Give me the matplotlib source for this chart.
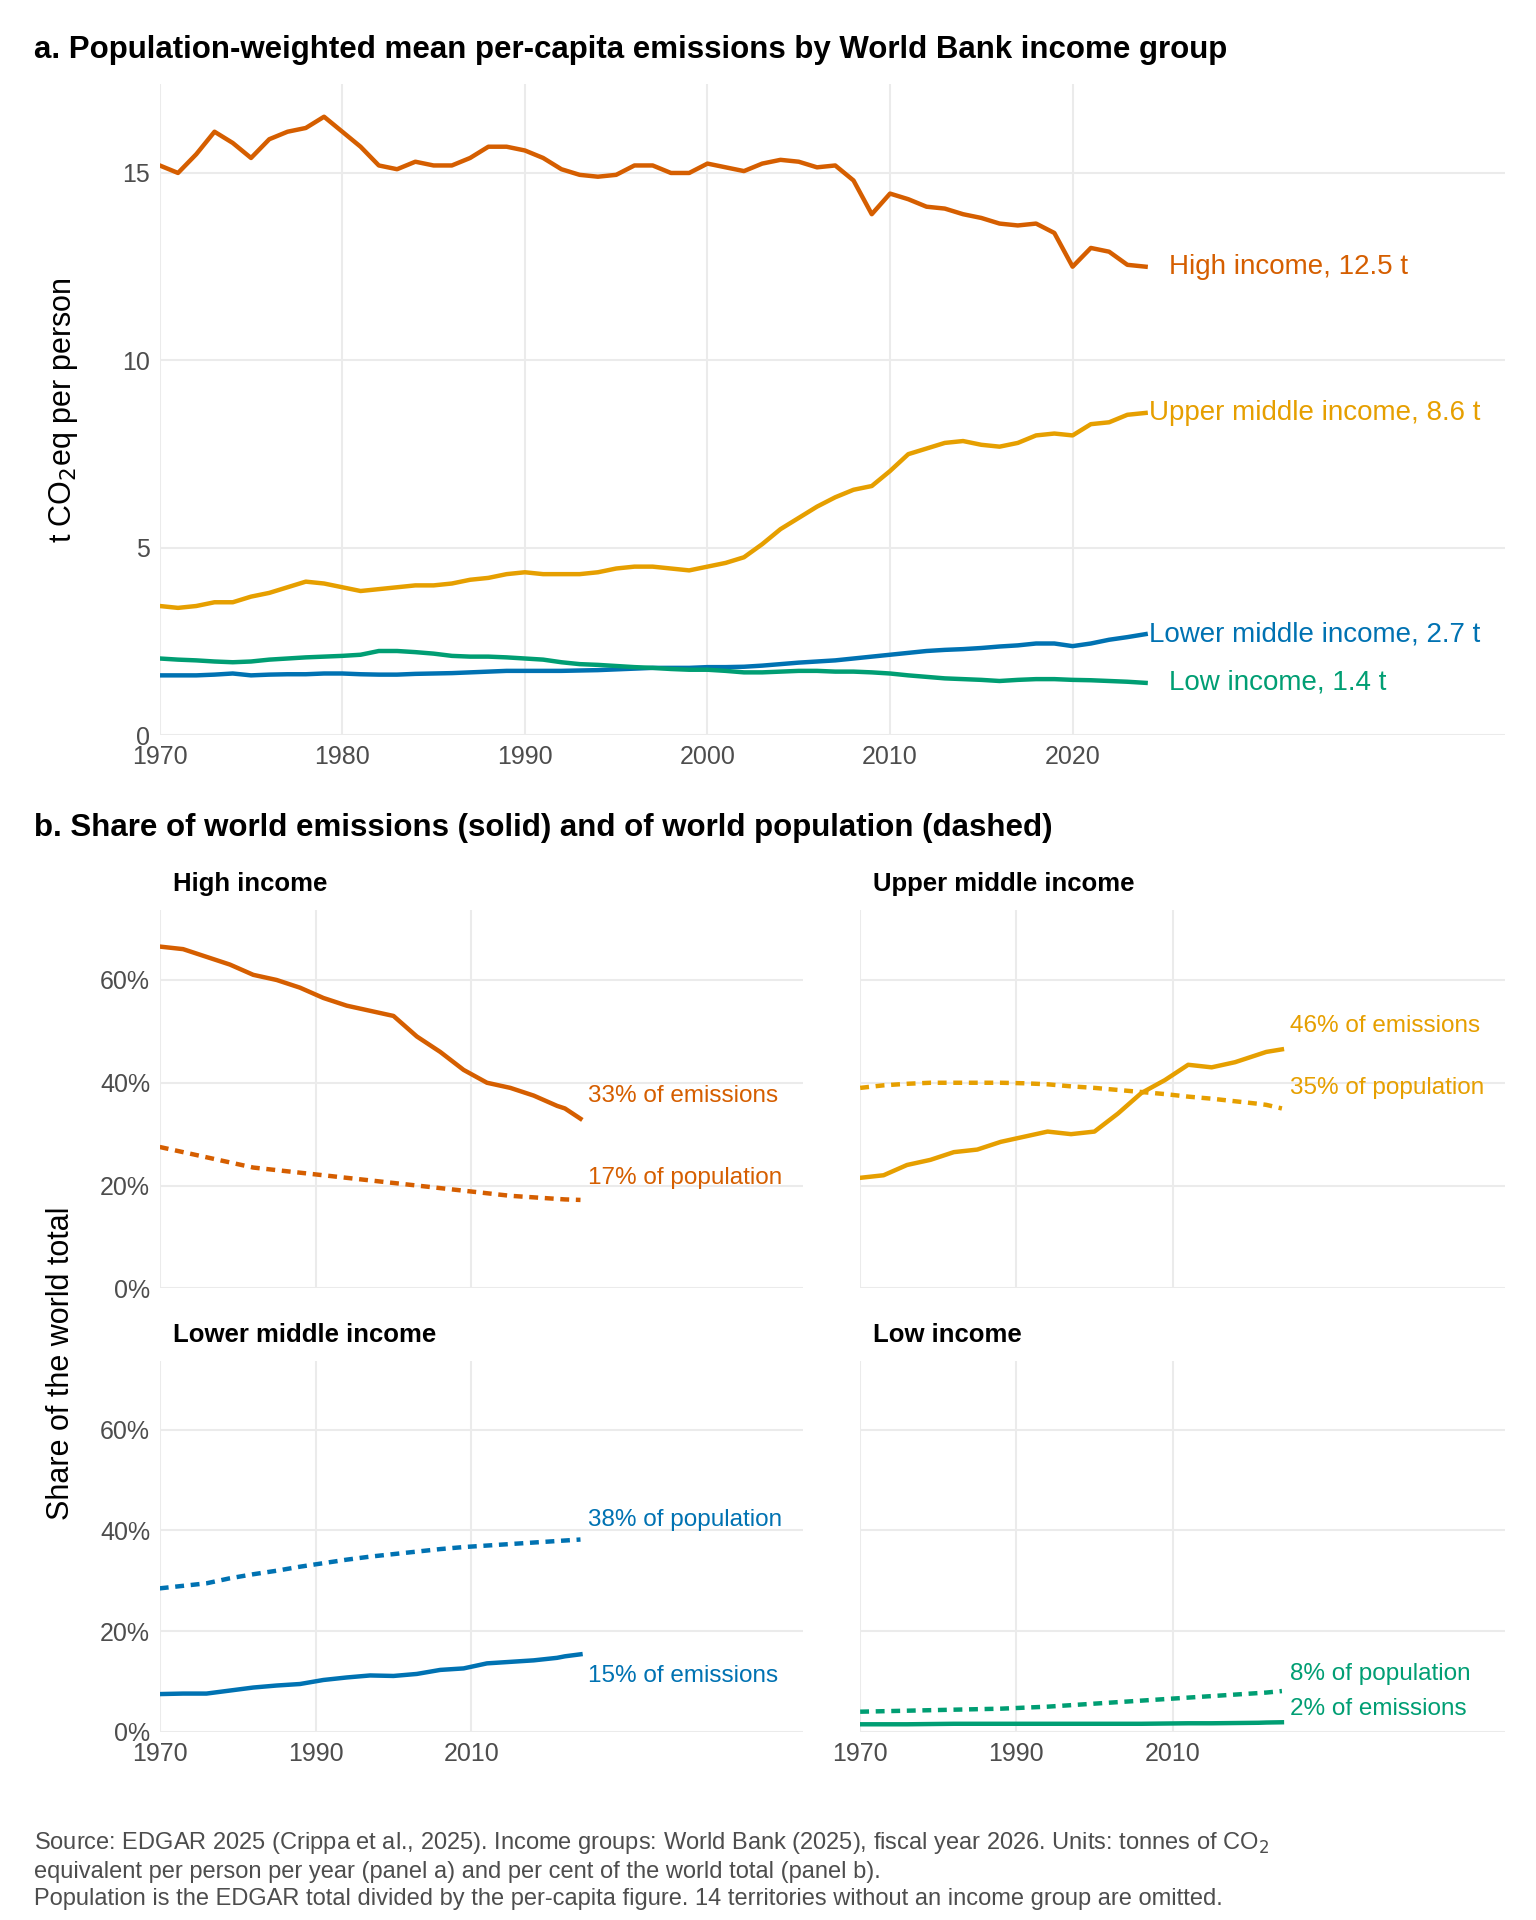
import matplotlib
matplotlib.use("Agg")
import matplotlib.pyplot as plt
import numpy as np

plt.rcParams['font.family'] = ['Liberation Sans', 'DejaVu Sans']

years_a = list(range(1970, 2025))
high_pc = [15.2,15.0,15.5,16.1,15.8,15.4,15.9,16.1,16.2,16.5,16.1,15.7,15.2,15.1,15.3,15.2,15.2,15.4,15.7,15.7,
           15.6,15.4,15.1,14.95,14.9,14.95,15.2,15.2,15.0,15.0,15.25,15.15,15.05,15.25,15.35,15.3,15.15,15.2,14.8,13.9,
           14.45,14.3,14.1,14.05,13.9,13.8,13.65,13.6,13.65,13.4,12.5,13.0,12.9,12.55,12.5]
upper_pc = [3.45,3.4,3.45,3.55,3.55,3.7,3.8,3.95,4.1,4.05,3.95,3.85,3.9,3.95,4.0,4.0,4.05,4.15,4.2,4.3,
            4.35,4.3,4.3,4.3,4.35,4.45,4.5,4.5,4.45,4.4,4.5,4.6,4.75,5.1,5.5,5.8,6.1,6.35,6.55,6.65,
            7.05,7.5,7.65,7.8,7.85,7.75,7.7,7.8,8.0,8.05,8.0,8.3,8.35,8.55,8.6]
lower_pc = [1.6,1.6,1.6,1.62,1.65,1.6,1.62,1.63,1.63,1.65,1.65,1.63,1.62,1.62,1.64,1.65,1.66,1.68,1.7,1.72,
            1.72,1.72,1.72,1.73,1.74,1.76,1.78,1.8,1.8,1.8,1.82,1.82,1.83,1.86,1.9,1.94,1.97,2.0,2.05,2.1,
            2.15,2.2,2.25,2.28,2.3,2.33,2.37,2.4,2.45,2.45,2.38,2.45,2.55,2.62,2.7]
low_pc = [2.05,2.02,2.0,1.97,1.95,1.97,2.02,2.05,2.08,2.1,2.12,2.15,2.25,2.25,2.22,2.18,2.12,2.1,2.1,2.08,
          2.05,2.02,1.95,1.9,1.88,1.85,1.82,1.8,1.77,1.75,1.75,1.72,1.68,1.68,1.7,1.72,1.72,1.7,1.7,1.68,
          1.65,1.6,1.56,1.52,1.5,1.48,1.45,1.48,1.5,1.5,1.48,1.47,1.45,1.43,1.4]

years_b = [1970,1973,1976,1979,1982,1985,1988,1991,1994,1997,2000,2003,2006,2009,2012,2015,2018,2021,2022,2024]
high_em = [66.5,66,64.5,63,61,60,58.5,56.5,55,54,53,49,46,42.5,40,39,37.5,35.5,35,33]
high_pop = [27.5,26.5,25.5,24.5,23.5,23,22.5,22,21.5,21,20.5,20,19.5,19,18.5,18,17.7,17.4,17.3,17.2]
upper_em = [21.5,22,24,25,26.5,27,28.5,29.5,30.5,30,30.5,34,38,40.5,43.5,43,44,45.5,46,46.5]
upper_pop = [39,39.5,39.8,40,40,40,40,39.9,39.7,39.3,39,38.6,38.2,37.8,37.3,36.9,36.4,35.9,35.7,35]
lower_em = [7.5,7.6,7.6,8.2,8.8,9.2,9.5,10.3,10.8,11.2,11.1,11.5,12.3,12.6,13.6,13.9,14.2,14.7,15.0,15.4]
lower_pop = [28.5,29,29.5,30.5,31.3,32,32.8,33.5,34.2,34.8,35.3,35.8,36.3,36.7,37,37.3,37.6,37.9,38,38.2]
low_em = [1.5,1.5,1.5,1.55,1.6,1.6,1.6,1.6,1.6,1.6,1.6,1.6,1.6,1.65,1.7,1.7,1.75,1.8,1.85,1.9]
low_pop = [4.0,4.1,4.2,4.3,4.4,4.5,4.6,4.8,5.0,5.3,5.6,5.9,6.2,6.5,6.8,7.1,7.4,7.7,7.8,8.1]

groups = ["High income", "Upper middle income", "Lower middle income", "Low income"]
colors = ["#D55E00", "#E69F00", "#0072B2", "#009E73"]
grid_c = "#EBEBEB"
txt_c = "#4D4D4D"

fig = plt.figure(figsize=(15.36, 19.2), dpi=100)

def style(ax):
    for s in ax.spines.values():
        s.set_visible(False)
    ax.grid(True, color=grid_c, lw=1.5)
    ax.set_axisbelow(True)
    ax.tick_params(length=0, labelsize=18, labelcolor=txt_c, pad=7)
    ax.minorticks_off()

# Panel a
ax = fig.add_axes([0.104, 0.617, 0.876, 0.339])
style(ax)
pcs = [high_pc, upper_pc, lower_pc, low_pc]
for g, c, v in zip(groups, colors, pcs):
    ax.plot(years_a, v, color=c, lw=3.2)
ax.set_xlim(1970, 2043.7)
ax.set_ylim(0, 17.36)
ax.set_xticks([1970, 1980, 1990, 2000, 2010, 2020])
ax.set_yticks([0, 5, 10, 15])
ax.minorticks_off()
lab_y = [12.5, 8.6, 2.7, 1.4]
lab_x = [2025.3, 2024.2, 2024.2, 2025.3]
for g, c, v, x, y in zip(groups, colors, pcs, lab_x, lab_y):
    ax.text(x, y, f"{g}, {v[-1]:.1f} t", color=c, fontsize=20, va='center', ha='left')
ax.set_ylabel("t CO$_2$eq per person", fontsize=22, labelpad=30)
fig.text(0.022, 0.974, "a. Population-weighted mean per-capita emissions by World Bank income group",
         fontsize=22.5, fontweight='bold', va='center')

# Panel b
fig.text(0.022, 0.569, "b. Share of world emissions (solid) and of world population (dashed)",
         fontsize=22.5, fontweight='bold', va='center')
ems = [high_em, upper_em, lower_em, low_em]
pops = [high_pop, upper_pop, lower_pop, low_pop]
pos = [[0.104, 0.329, 0.419, 0.197], [0.560, 0.329, 0.420, 0.197],
       [0.104, 0.098, 0.419, 0.193], [0.560, 0.098, 0.420, 0.193]]
ann = {
    0: [(2025, 33+4.5, "em"), (2025, 17+4.5, "pop")],
    1: [(2025, 46+5, "em"), (2025, 35+4, "pop")],
    2: [(2025, 38+4, "pop"), (2025, 15.5-4.5, "em")],
    3: [(2025, 8+3.5, "pop"), (2025, 2+2.5, "em")],
}
for i, (g, c) in enumerate(zip(groups, colors)):
    a = fig.add_axes(pos[i])
    style(a)
    a.plot(years_b, ems[i], color=c, lw=3.2)
    a.plot(years_b, pops[i], color=c, lw=3.2, ls=(0, (2, 1.5)))
    a.set_xlim(1970, 2052.6)
    a.set_ylim(0, 73.6)
    a.set_xticks([1970, 1990, 2010])
    a.set_yticks([0, 20, 40, 60])
    a.set_yticklabels(["0%", "20%", "40%", "60%"] if i % 2 == 0 else [])
    if i < 2:
        a.set_xticklabels([])
    a.text(0.02, 1.07, g, transform=a.transAxes, fontsize=18.5, fontweight='bold', va='center')
    for x, y, kind in ann[i]:
        val = ems[i][-1] if kind == "em" else pops[i][-1]
        s = f"{val:.0f}% of emissions" if kind == "em" else f"{val:.0f}% of population"
        a.text(x, y, s, color=c, fontsize=17.5, va='center', ha='left')

fig.text(0.04, 0.29, "Share of the world total", rotation=90, fontsize=22, va='center', ha='center')

fig.text(0.022, 0.047, "Source: EDGAR 2025 (Crippa et al., 2025). Income groups: World Bank (2025), fiscal year 2026. Units: tonnes of CO$_2$\n"
         "equivalent per person per year (panel a) and per cent of the world total (panel b).\n"
         "Population is the EDGAR total divided by the per-capita figure. 14 territories without an income group are omitted.",
         fontsize=17, color=txt_c, va='top', linespacing=1.3)

fig.savefig("out.png", dpi=100, facecolor='white')
